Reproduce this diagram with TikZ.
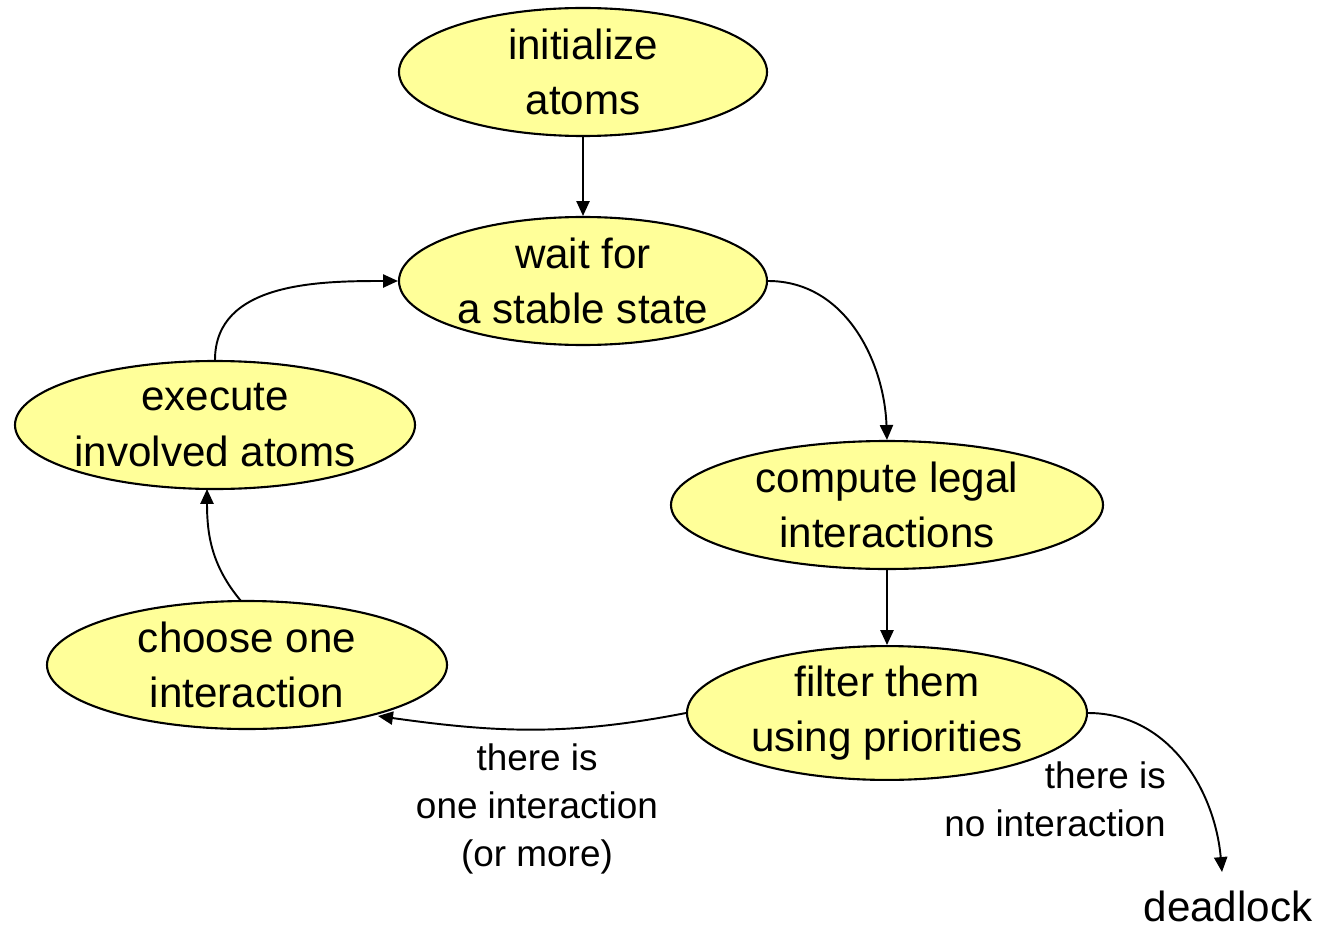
\documentclass[tikz,border=0pt]{standalone}
\usepackage{fontspec}
\setmainfont{Liberation Sans}
\usetikzlibrary{shapes.geometric,arrows.meta}
\definecolor{paleyellow}{HTML}{FFFF99}
\newcommand{\pxu}{*0.02cm}
\tikzset{
  stepnode/.style={ellipse,draw=black,line width=1.2pt,fill=paleyellow,
    minimum width=368\pxu,minimum height=128\pxu,inner sep=0pt,
    align=center,font=\fontsize{24}{31.5}\selectfont},
  flow/.style={-{Triangle[length=8.5pt,width=7.5pt]},line width=1.1pt},
  guard/.style={font=\fontsize{21}{27.5}\selectfont}
}
\begin{document}
\begin{tikzpicture}[x=0.02cm,y=-0.02cm]
  \useasboundingbox (0,0) rectangle (1324,929);
  % Cac buoc cua vong lap
  \node[stepnode] (init) at (583,72) {initialize\\atoms};
  \node[stepnode] (wait) at (583,281) {wait for\\a stable state};
  \node[stepnode,minimum width=400\pxu] (exec) at (215,425) {execute\\involved atoms};
  \node[stepnode,minimum width=432\pxu] (comp) at (887,505) {compute legal\\interactions};
  \node[stepnode,minimum width=400\pxu] (choose) at (247,665) {choose one\\interaction};
  \node[stepnode,minimum width=400\pxu] (filter) at (887,713) {filter them\\using priorities};
  \node[font=\fontsize{24}{31.5}\selectfont] (dead) at (1228,906) {deadlock};
  \coordinate (deadtop) at (1222,872);
  \coordinate (chooseend) at (378,716);
  \coordinate (chooseout) at (241,601);
  \coordinate (execin) at (207,489);
  % Nhan cua hai nhanh
  \node[guard,align=center] (oneint) at (537,809) {there is\\one interaction\\(or more)};
  \node[guard,align=right,anchor=east] (noint) at (1172,799) {there is\\no interaction};
  % Cac mui ten
  \draw[flow] (init) -- (wait);
  \draw[flow] (wait.east) to[out=0,in=92] (comp.north);
  \draw[flow] (comp) -- (filter);
  \draw[flow] (filter.west) to[out=191,in=-8] (chooseend);
  \draw[flow] (filter.east) to[out=0,in=95] (deadtop);
  \draw[flow] (chooseout) to[out=130,in=-90] (execin);
  \draw[flow] (exec.north) to[out=90,in=180] (wait.west);
\end{tikzpicture}
\end{document}
